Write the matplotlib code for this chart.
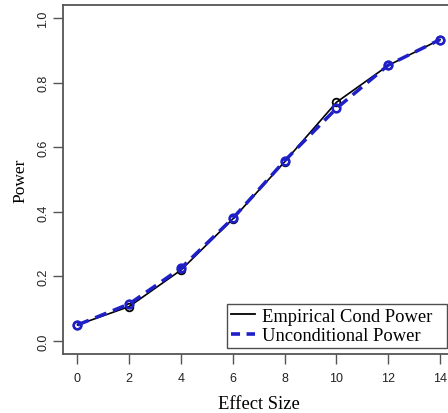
import matplotlib
matplotlib.use("Agg")
import matplotlib.pyplot as plt
from matplotlib.lines import Line2D

effect_size = [0, 2, 4, 6, 8, 10, 12, 14]
empirical_cond_power = [0.050, 0.107, 0.220, 0.378, 0.555, 0.739, 0.853, 0.933]
unconditional_power = [0.050, 0.115, 0.226, 0.380, 0.558, 0.720, 0.854, 0.933]
x_ticks = [0, 2, 4, 6, 8, 10, 12, 14]
y_ticks = [0.0, 0.2, 0.4, 0.6, 0.8, 1.0]

fig = plt.figure(figsize=(4.48, 4.14), dpi=100)
ax = fig.add_axes([0.1406, 0.1425, 0.874, 0.843])

blue = "#1f1fc8"
ax.plot(effect_size, empirical_cond_power, color="black", lw=1.2, marker="o",
        ms=5.5, mfc="none", mec="black", mew=1.3, zorder=2)
ax.plot(effect_size, unconditional_power, color=blue, lw=2.5, ls=(0, (3.5, 2)),
        marker="o", ms=5.5, mfc="none", mec=blue, mew=1.9, zorder=3)

ax.set_xlim(-0.56, 14.56)
ax.set_ylim(-0.04, 1.04)
ax.set_xticks(x_ticks)
ax.set_xticklabels([str(v) for v in x_ticks], fontfamily="Liberation Sans", fontsize=9)
ax.set_yticks(y_ticks)
ax.set_yticklabels([f"{v:.1f}" for v in y_ticks], fontfamily="Liberation Sans",
                   fontsize=9, rotation=90, va="center")
ax.tick_params(axis="both", direction="out", length=7, width=1, color="#555555",
               labelcolor="#222222")
ax.tick_params(axis="x", pad=6)
ax.tick_params(axis="y", pad=3)
for s in ax.spines.values():
    s.set_color("#555555")
    s.set_linewidth(1.3)

ax.set_xlabel("Effect Size", fontfamily="Liberation Serif", fontsize=13.4, labelpad=8)
ax.set_ylabel("Power", fontfamily="Liberation Serif", fontsize=12.5, labelpad=6)

handles = [Line2D([0], [0], color="black", lw=1.3),
           Line2D([0], [0], color=blue, lw=2.6, ls=(0, (2.5, 1.8)))]
leg = fig.legend(handles, ["Empirical Cond Power", "Unconditional Power"],
                 loc="lower left",
                 bbox_to_anchor=(227 / 448, 65 / 414, 220 / 448, 51 / 414),
                 bbox_transform=fig.transFigure, mode="expand",
                 prop={"family": "Liberation Serif", "size": 13.3},
                 frameon=True, fancybox=False, edgecolor="#222222",
                 handlelength=1.3, handletextpad=0.4, borderpad=0.2,
                 labelspacing=0.15, borderaxespad=0.0)
leg.get_frame().set_linewidth(1.0)

fig.savefig("out.png", dpi=100)
